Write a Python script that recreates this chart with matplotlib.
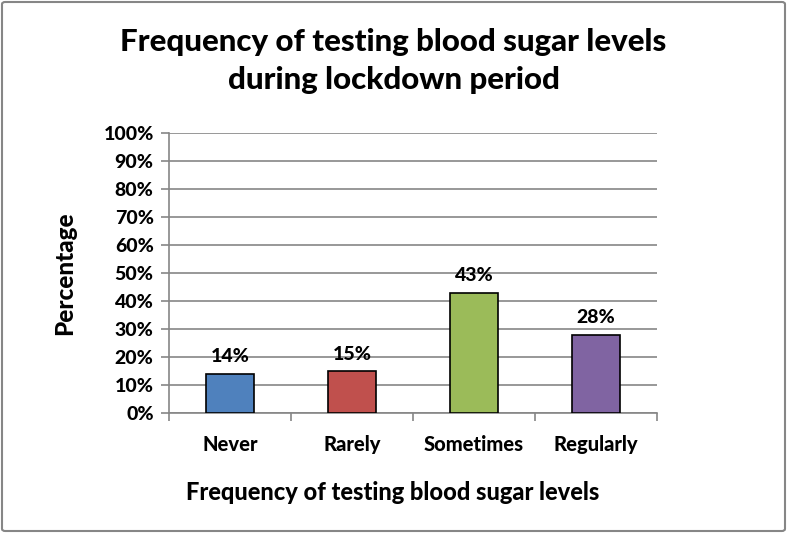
import matplotlib
matplotlib.use("Agg")
import matplotlib.pyplot as plt
from matplotlib.patches import FancyBboxPatch
from matplotlib.ticker import PercentFormatter, FixedLocator

categories = ["Never", "Rarely", "Sometimes", "Regularly"]
values = [14, 15, 43, 28]
labels = ["14%", "15%", "43%", "28%"]
colors = ["#4F81BD", "#C0504D", "#9BBB59", "#8064A2"]

plt.rcParams['font.family'] = ['Lato', 'DejaVu Sans']
WT = "black"

fig = plt.figure(figsize=(7.87, 5.33), dpi=100)
W, H = 787, 533
ax = fig.add_axes([169/W, 1-413/H, (657-169)/W, (413-133)/H])

x = list(range(len(categories)))
ax.bar(x, values, width=0.4, color=colors, edgecolor="black", linewidth=1.2, zorder=3)
for xi, v, lab in zip(x, values, labels):
    ax.text(xi, v + 3, lab, ha="center", va="bottom", fontsize=14, fontweight=WT)

ax.set_xlim(-0.5, 3.5)
ax.set_ylim(0, 100)
ax.set_yticks(range(0, 101, 10))
ax.yaxis.set_major_formatter(PercentFormatter(decimals=0))
ax.set_xticks(x)
ax.set_xticklabels(categories, fontsize=14.5, fontweight=WT)
ax.xaxis.set_minor_locator(FixedLocator([-0.5, 0.5, 1.5, 2.5, 3.5]))
ax.tick_params(axis="x", which="major", length=0, pad=16)
ax.tick_params(axis="x", which="minor", length=6, color="#868686", width=1.2)
ax.tick_params(axis="y", length=6, color="#868686", width=1.2, labelsize=14, pad=5)
for t in ax.get_yticklabels():
    t.set_fontweight(WT)

ax.grid(axis="y", color="#868686", linewidth=1.2, zorder=0)
for s in ["top", "right"]:
    ax.spines[s].set_visible(False)
for s in ["left", "bottom"]:
    ax.spines[s].set_color("#868686")
    ax.spines[s].set_linewidth(1.2)

ax.set_ylabel("Percentage", fontsize=17.5, fontweight=WT, labelpad=22)
ax.yaxis.set_label_coords(-93/488, 0.5)
fig.text(393/W, 1-493/H, "Frequency of testing blood sugar levels",
         ha="center", va="center", fontsize=17, fontweight=WT)

fig.text(0.5, 1-61/H, "Frequency of testing blood sugar levels\nduring lockdown period",
         ha="center", va="center", fontsize=22.5, fontweight=WT, linespacing=1.45)

border = FancyBboxPatch((2/W, 2/H), 1-4/W, 1-4/H, boxstyle="round,pad=0,rounding_size=0.004",
                        transform=fig.transFigure, fill=False, edgecolor="#868686", linewidth=1.5)
fig.patches.append(border)

fig.savefig("out.png", dpi=100)
